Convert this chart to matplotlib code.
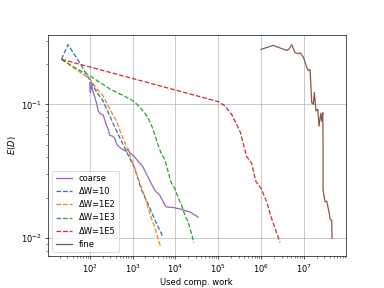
import matplotlib
matplotlib.use("Agg")
import matplotlib.pyplot as plt

start_x = 22
start_y = 0.218

# coarse solver
coarse_w = [100, 102.7, 111.3, 117.5, 130.9, 145.8, 158, 180.7, 206.7, 236.6, 270.4,
            293, 344, 383.6, 427, 502, 606, 712, 785, 861, 1067, 1359, 1730, 2146,
            2662, 3303, 4325, 5652, 6125, 8690, 12670, 21700, 33880]
coarse_e = [0.1456, 0.1222, 0.1405, 0.1266, 0.114, 0.1009, 0.0893, 0.0847, 0.0833,
            0.0724, 0.0652, 0.0587, 0.0577, 0.0557, 0.0502, 0.0476, 0.0456, 0.0445,
            0.0464, 0.0433, 0.0411, 0.0373, 0.0342, 0.0297, 0.0259, 0.0227, 0.0208,
            0.0176, 0.0170, 0.01687, 0.01644, 0.0156, 0.0143]

# dW = 10
dw10_w = [start_x, 31.1, 58.4, 100, 146, 205, 293, 427, 600, 815, 1125, 1613, 2089,
          2765, 3485, 4733, 5000]
dw10_e = [start_y, 0.281, 0.206, 0.153, 0.124, 0.106, 0.0818, 0.0630, 0.0499, 0.0407,
          0.0332, 0.0228, 0.0192, 0.0156, 0.0131, 0.0107, 0.0101]

# dW = 1E2
dw1e2_w = [start_x, 44.6, 100, 146, 205, 293, 421, 545, 720, 907, 1125, 1434, 1759,
           2205, 2765, 3303, 3881, 4487]
dw1e2_e = [start_y, 0.186, 0.156, 0.131, 0.116, 0.0925, 0.075, 0.0598, 0.0485, 0.040,
           0.033, 0.0263, 0.0221, 0.0176, 0.0139, 0.0120, 0.0099, 0.00863]

# dW = 1E3
dw1e3_w = [start_x, 44.6, 100, 293, 622, 957, 1323, 1759, 2263, 2810, 3303, 3881, 4561,
           5652, 6748, 7810, 9680, 11370, 13890, 16600, 19820, 23770, 26900]
dw1e3_e = [start_y, 0.189, 0.164, 0.131, 0.116, 0.108, 0.0991, 0.0893, 0.0804, 0.0687,
           0.0594, 0.0502, 0.0436, 0.0385, 0.0313, 0.0263, 0.0234, 0.0203, 0.0175,
           0.0148, 0.0131, 0.0107, 0.00914]

# dW = 1E5
dw1e5_w = [start_x, 1.0e5, 1.426e5, 2.046e5, 2.578e5, 3.196e5, 3.858e5, 4.58e5, 6.0e5,
           6.79e5, 7.568e5, 1.005e6, 1.343e6, 1.758e6, 2.10e6, 2.75e6]
dw1e5_e = [start_y, 0.105, 0.0974, 0.0843, 0.0724, 0.063, 0.0502, 0.0407, 0.0362,
           0.0303, 0.0263, 0.0234, 0.0186, 0.0139, 0.0118, 0.00925]

# fine solver
fine_w = [9.89e5, 1.92e6, 3.95e6, 4.54e6, 5.16e6, 6.17e6, 7.37e6, 8.07e6, 9.64e6,
          1.157e7, 1.26e7, 1.38e7, 1.434e7, 1.513e7, 1.649e7, 1.741e7, 1.906e7,
          2.09e7, 2.24e7, 2.455e7, 2.59e7, 2.735e7, 2.78e7, 2.78e7, 3.09e7, 3.39e7,
          3.90e7, 4.05e7, 4.43e7, 4.51e7]
fine_e = [0.259, 0.2775, 0.254, 0.262, 0.281, 0.2443, 0.240, 0.2443, 0.2262, 0.190,
          0.1795, 0.1826, 0.1462, 0.1032, 0.1003, 0.1229, 0.0893, 0.092, 0.0687,
          0.0858, 0.075, 0.0867, 0.0485, 0.0228, 0.0186, 0.0188, 0.0151, 0.01374,
          0.0135, 0.0099]

fig, ax = plt.subplots(figsize=(6.4, 4.8), dpi=60)

ax.plot(coarse_w, coarse_e, color="C4", label="coarse")
ax.plot(dw10_w, dw10_e, "--", color="C0", label="ΔW=10")
ax.plot(dw1e2_w, dw1e2_e, "--", color="C1", label="ΔW=1E2")
ax.plot(dw1e3_w, dw1e3_e, "--", color="C2", label="ΔW=1E3")
ax.plot(dw1e5_w, dw1e5_e, "--", color="C3", label="ΔW=1E5")
ax.plot(fine_w, fine_e, color="C5", label="fine")

ax.set_xscale("log")
ax.set_yscale("log")
ax.grid(True)
ax.set_xlabel("Used comp. work")
ax.set_ylabel("$E(D)$")
ax.legend(loc="lower left")

fig.savefig("out.png", dpi=60)
